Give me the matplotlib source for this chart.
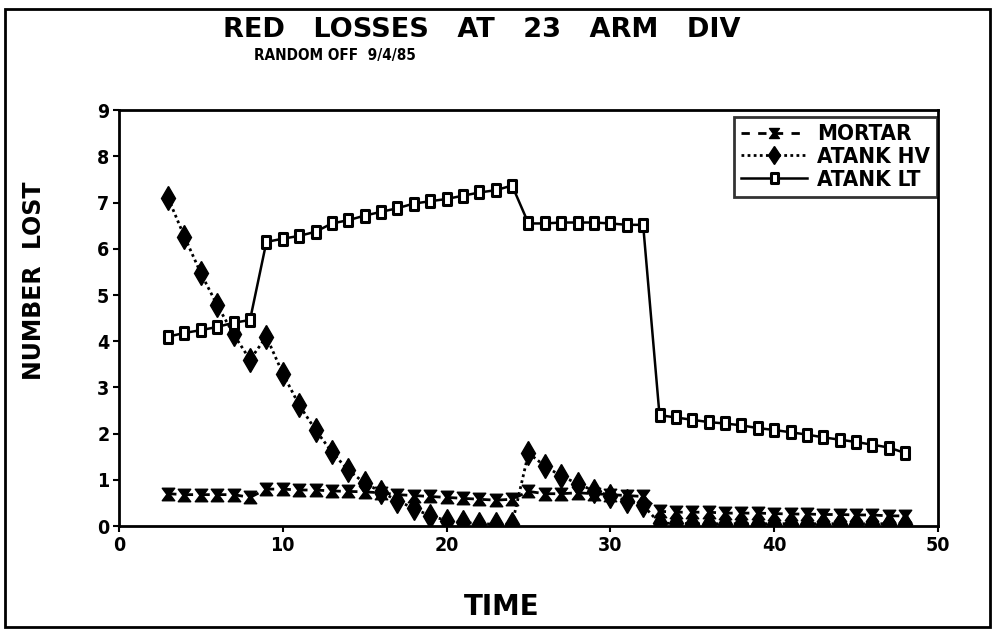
import matplotlib
matplotlib.use("Agg")
import matplotlib.pyplot as plt
from matplotlib.path import Path
from matplotlib.patches import Rectangle
from matplotlib.font_manager import FontProperties

# Simulation output: losses per time step
time = list(range(3, 49))

mortar = [0.70, 0.68, 0.68, 0.68, 0.68, 0.62, 0.80, 0.80, 0.78, 0.78, 0.76, 0.75,
          0.74, 0.72, 0.68, 0.66, 0.64, 0.62, 0.60, 0.58, 0.56, 0.58,
          0.75, 0.70, 0.70, 0.72, 0.70, 0.68, 0.66, 0.64,
          0.32, 0.30, 0.30, 0.30, 0.28, 0.28, 0.28, 0.27, 0.26, 0.26, 0.25, 0.25,
          0.24, 0.24, 0.22, 0.22]

atank_hv = [7.10, 6.26, 5.47, 4.78, 4.15, 3.60, 4.10, 3.30, 2.62, 2.08, 1.60, 1.21,
            0.93, 0.74, 0.55, 0.38, 0.22, 0.12, 0.08, 0.05, 0.04, 0.04,
            1.58, 1.30, 1.08, 0.92, 0.76, 0.66, 0.55, 0.45,
            0.06, 0.06, 0.05, 0.05, 0.05, 0.05, 0.05, 0.05, 0.05, 0.05, 0.05, 0.05,
            0.05, 0.05, 0.05, 0.05]

atank_lt = [4.10, 4.18, 4.24, 4.31, 4.40, 4.46, 6.15, 6.22, 6.28, 6.37, 6.55, 6.62,
            6.72, 6.80, 6.88, 6.98, 7.03, 7.08, 7.15, 7.22, 7.27, 7.37,
            6.55, 6.55, 6.57, 6.57, 6.57, 6.55, 6.52, 6.52,
            2.40, 2.35, 2.30, 2.25, 2.22, 2.18, 2.12, 2.08, 2.03, 1.98, 1.92, 1.87,
            1.82, 1.76, 1.70, 1.58]

series_labels = ["MORTAR", "ATANK HV", "ATANK LT"]
x_ticks = [0, 10, 20, 30, 40, 50]
y_ticks = list(range(0, 10))

title = "RED   LOSSES   AT   23   ARM   DIV"
subtitle = "RANDOM OFF  9/4/85"
x_label = "TIME"
y_label = "NUMBER  LOST"


def narrow(size):
    return FontProperties(family=["DejaVu Sans"], weight="bold",
                          stretch="condensed", size=size)


def wide(size):
    return FontProperties(family=["DejaVu Sans"], weight="bold", size=size)


# marker shapes: hourglass for mortar, tall box for light anti-tank
hourglass = Path([(-1, 1), (1, 1), (0.25, 0), (1, -1), (-1, -1), (-0.25, 0), (-1, 1)],
                 [Path.MOVETO] + [Path.LINETO] * 5 + [Path.CLOSEPOLY])
tall_box = Path([(-0.7, -1), (0.7, -1), (0.7, 1), (-0.7, 1), (-0.7, -1)],
                [Path.MOVETO] + [Path.LINETO] * 3 + [Path.CLOSEPOLY])

fig = plt.figure(figsize=(9.99, 6.30), dpi=100)
fig.patch.set_facecolor("white")
ax = fig.add_axes([0.1191, 0.165, 0.8198, 0.660])

ax.plot(time, mortar, color="black", linestyle=(0, (3, 3)), linewidth=2,
        marker=hourglass, markersize=9, markerfacecolor="black",
        markeredgecolor="black", label=series_labels[0], zorder=3)
ax.plot(time, atank_hv, color="black", linestyle=(0, (1, 1.2)), linewidth=2,
        marker="d", markersize=12, markerfacecolor="black",
        markeredgecolor="black", label=series_labels[1], zorder=4)
ax.plot(time, atank_lt, color="black", linestyle="-", linewidth=1.8,
        marker=tall_box, markersize=9, markerfacecolor="white",
        markeredgecolor="black", markeredgewidth=2.2, label=series_labels[2],
        zorder=5)

ax.set_xlim(0, 50)
ax.set_ylim(0, 9)
ax.set_xticks(x_ticks)
ax.set_yticks(y_ticks)
for s in ax.spines.values():
    s.set_linewidth(2)
ax.tick_params(direction="out", length=4, width=1.5, pad=3)
for lab in ax.get_xticklabels() + ax.get_yticklabels():
    lab.set_fontproperties(narrow(14))

leg = ax.legend(loc="upper right", bbox_to_anchor=(1.013, 1.01), frameon=True,
                fancybox=False, edgecolor="black", handlelength=3.0,
                handletextpad=0.45, borderpad=0.32, labelspacing=0.12,
                markerscale=0.8, prop=narrow(16))
leg.get_frame().set_linewidth(2)
leg.set_zorder(10)

fig.text(0.482, 0.952, title, ha="center", va="center", fontproperties=wide(19.5))
fig.text(0.335, 0.912, subtitle, ha="center", va="center", fontproperties=narrow(11))
fig.text(0.502, 0.036, x_label, ha="center", va="center", fontproperties=wide(20))
fig.text(0.034, 0.554, y_label, ha="center", va="center", rotation=90,
         fontproperties=wide(17))

fig.patches.append(Rectangle((0.005, 0.005), 0.986, 0.98, transform=fig.transFigure,
                             fill=False, edgecolor="black", linewidth=2))

fig.savefig("out.png", dpi=100, facecolor="white")
